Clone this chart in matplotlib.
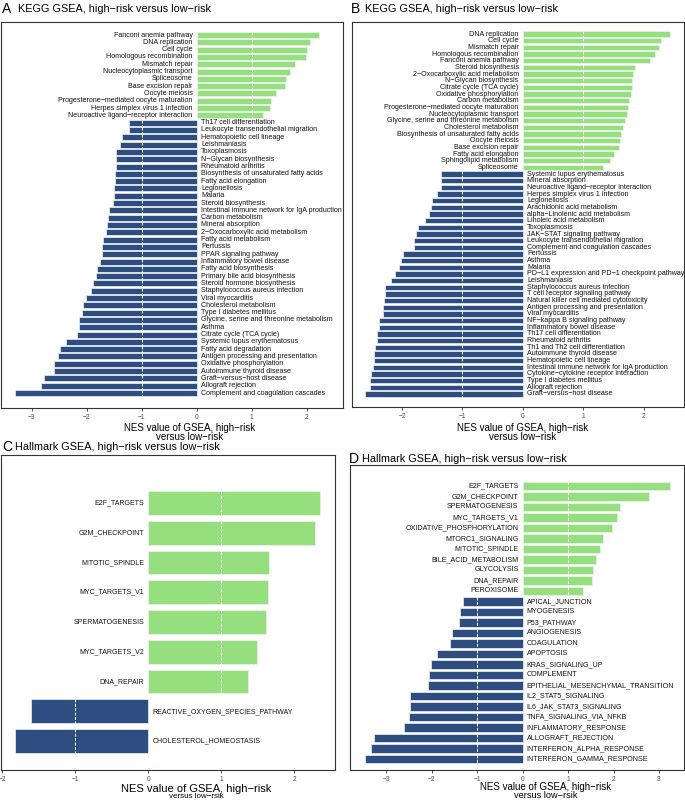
import matplotlib
matplotlib.use("Agg")
import matplotlib.pyplot as plt

plt.rcParams['font.family'] = ['Liberation Sans', 'DejaVu Sans']

GREEN = "#95DF7F"
BLUE = "#2E4D80"
M = "\u2212"

# --- panel A: KEGG ---
a_names = [
    "Fanconi anemia pathway", "DNA replication", "Cell cycle", "Homologous recombination",
    "Mismatch repair", "Nucleocytoplasmic transport", "Spliceosome", "Base excision repair",
    "Oocyte meiosis", f"Progesterone{M}mediated oocyte maturation",
    "Herpes simplex virus 1 infection", f"Neuroactive ligand{M}receptor interaction",
    "Th17 cell differentiation", "Leukocyte transendothelial migration",
    "Hematopoietic cell lineage", "Leishmaniasis", "Toxoplasmosis", f"N{M}Glycan biosynthesis",
    "Rheumatoid arthritis", "Biosynthesis of unsaturated fatty acids", "Fatty acid elongation",
    "Legionellosis", "Malaria", "Steroid biosynthesis",
    "Intestinal immune network for IgA production", "Carbon metabolism", "Mineral absorption",
    f"2{M}Oxocarboxylic acid metabolism", "Fatty acid metabolism", "Pertussis",
    "PPAR signaling pathway", "Inflammatory bowel disease", "Fatty acid biosynthesis",
    "Primary bile acid biosynthesis", "Steroid hormone biosynthesis",
    "Staphylococcus aureus infection", "Viral myocarditis", "Cholesterol metabolism",
    "Type I diabetes mellitus", "Glycine, serine and threonine metabolism", "Asthma",
    "Citrate cycle (TCA cycle)", "Systemic lupus erythematosus", "Fatty acid degradation",
    "Antigen processing and presentation", "Oxidative phosphorylation",
    "Autoimmune thyroid disease", f"Graft{M}versus{M}host disease", "Allograft rejection",
    "Complement and coagulation cascades",
]
a_nes = [
    2.22, 2.06, 2.01, 1.99, 1.79, 1.70, 1.62, 1.60, 1.44, 1.35, 1.33, 1.21,
    -1.23, -1.23, -1.36, -1.39, -1.46, -1.47, -1.47, -1.49, -1.49, -1.50, -1.51, -1.52,
    -1.60, -1.61, -1.63, -1.65, -1.70, -1.72, -1.73, -1.76, -1.81, -1.83, -1.89, -1.92,
    -2.02, -2.07, -2.09, -2.15, -2.15, -2.18, -2.38, -2.49, -2.53, -2.60, -2.60, -2.78,
    -2.83, -3.30,
]

# --- panel B: KEGG ---
b_names = [
    "DNA replication", "Cell cycle", "Mismatch repair", "Homologous recombination",
    "Fanconi anemia pathway", "Steroid biosynthesis", f"2{M}Oxocarboxylic acid metabolism",
    f"N{M}Glycan biosynthesis", "Citrate cycle (TCA cycle)", "Oxidative phosphorylation",
    "Carbon metabolism", f"Progesterone{M}mediated oocyte maturation",
    "Nucleocytoplasmic transport", "Glycine, serine and threonine metabolism",
    "Cholesterol metabolism", "Biosynthesis of unsaturated fatty acids", "Oocyte meiosis",
    "Base excision repair", "Fatty acid elongation", "Sphingolipid metabolism", "Spliceosome",
    "Systemic lupus erythematosus", "Mineral absorption",
    f"Neuroactive ligand{M}receptor interaction", "Herpes simplex virus 1 infection",
    "Legionellosis", "Arachidonic acid metabolism", f"alpha{M}Linolenic acid metabolism",
    "Linoleic acid metabolism", "Toxoplasmosis", f"JAK{M}STAT signaling pathway",
    "Leukocyte transendothelial migration", "Complement and coagulation cascades",
    "Pertussis", "Asthma", "Malaria", f"PD{M}L1 expression and PD{M}1 checkpoint pathway",
    "Leishmaniasis", "Staphylococcus aureus infection", "T cell receptor signaling pathway",
    "Natural killer cell mediated cytotoxicity", "Antigen processing and presentation",
    "Viral myocarditis", f"NF{M}kappa B signaling pathway", "Inflammatory bowel disease",
    "Th17 cell differentiation", "Rheumatoid arthritis", "Th1 and Th2 cell differentiation",
    "Autoimmune thyroid disease", "Hematopoietic cell lineage",
    "Intestinal immune network for IgA production", f"Cytokine{M}cytokine receptor interaction",
    "Type I diabetes mellitus", "Allograft rejection", f"Graft{M}versus{M}host disease",
]
b_nes = [
    2.44, 2.29, 2.25, 2.19, 2.10, 1.85, 1.83, 1.81, 1.81, 1.80, 1.76, 1.75, 1.72, 1.70,
    1.66, 1.63, 1.61, 1.59, 1.51, 1.45, 1.33,
    -1.35, -1.35, -1.36, -1.42, -1.51, -1.52, -1.56, -1.62, -1.74, -1.77, -1.80, -1.81,
    -1.98, -2.02, -2.05, -2.12, -2.18, -2.28, -2.29, -2.30, -2.32, -2.32, -2.38, -2.39,
    -2.41, -2.42, -2.45, -2.46, -2.46, -2.48, -2.52, -2.53, -2.53, -2.61,
]

# --- panel C: Hallmark ---
c_names = [
    "E2F_TARGETS", "G2M_CHECKPOINT", "MITOTIC_SPINDLE", "MYC_TARGETS_V1", "SPERMATOGENESIS",
    "MYC_TARGETS_V2", "DNA_REPAIR", "REACTIVE_OXYGEN_SPECIES_PATHWAY", "CHOLESTEROL_HOMEOSTASIS",
]
c_nes = [2.36, 2.28, 1.65, 1.64, 1.62, 1.49, 1.37, -1.61, -1.83]

# --- panel D: Hallmark ---
d_names = [
    "E2F_TARGETS", "G2M_CHECKPOINT", "SPERMATOGENESIS", "MYC_TARGETS_V1",
    "OXIDATIVE_PHOSPHORYLATION", "MTORC1_SIGNALING", "MITOTIC_SPINDLE", "BILE_ACID_METABOLISM",
    "GLYCOLYSIS", "DNA_REPAIR", "PEROXISOME", "APICAL_JUNCTION", "MYOGENESIS", "P53_PATHWAY",
    "ANGIOGENESIS", "COAGULATION", "APOPTOSIS", "KRAS_SIGNALING_UP", "COMPLEMENT",
    "EPITHELIAL_MESENCHYMAL_TRANSITION", "IL2_STAT5_SIGNALING", "IL6_JAK_STAT3_SIGNALING",
    "TNFA_SIGNALING_VIA_NFKB", "INFLAMMATORY_RESPONSE", "ALLOGRAFT_REJECTION",
    "INTERFERON_ALPHA_RESPONSE", "INTERFERON_GAMMA_RESPONSE",
]
d_nes = [
    3.24, 2.78, 2.15, 2.08, 1.96, 1.76, 1.70, 1.62, 1.54, 1.52, 1.32,
    -1.31, -1.37, -1.40, -1.56, -1.60, -1.89, -2.02, -2.07, -2.09, -2.47, -2.49, -2.51,
    -2.61, -3.27, -3.34, -3.46,
]

titles = ["KEGG GSEA, high\u2212risk versus low\u2212risk"] * 2 + \
         ["Hallmark GSEA, high\u2212risk versus low\u2212risk"] * 2
xlab_top = "NES value of GSEA, high\u2212risk"
xlab_ab2 = "versus low\u2212risk"
xlab_cd2 = "versus low\u2212rsik"

W, H = 685, 800
fig = plt.figure(figsize=(W / 100, H / 100), dpi=100)


def px_axes(l, t, r, b):
    return fig.add_axes([l / W, 1 - b / H, (r - l) / W, (b - t) / H])


def draw(ax, names, vals, xlim, pad_top, pad_bot, height, fs, tick_fs):
    n = len(names)
    ys = list(range(n))
    cols = [GREEN if v > 0 else BLUE for v in vals]
    ax.barh(ys, vals, height=height, color=cols, edgecolor="#f2f2f2", linewidth=0.5, zorder=2)
    for y, v in zip(ys, vals):
        ref = 1 if v > 0 else -1
        ax.plot([ref, ref], [y - height / 2, y + height / 2], color="white",
                lw=0.7, ls=(0, (3, 1.5)), zorder=3)
        if v > 0:
            ax.annotate(names[y], (0, y), xytext=(-3, 0), textcoords="offset points",
                        ha="right", va="center", fontsize=fs, color="#111111")
        else:
            ax.annotate(names[y], (0, y), xytext=(3, 0), textcoords="offset points",
                        ha="left", va="center", fontsize=fs, color="#111111")
    ax.set_xlim(*xlim)
    ax.set_ylim(n - 1 + pad_bot, -pad_top)
    ax.set_yticks([])
    ax.tick_params(axis="x", labelsize=tick_fs, labelcolor="#4d4d4d", length=2.5,
                   width=0.6, color="#333333", pad=2)
    for s in ax.spines.values():
        s.set_color("#333333")
        s.set_linewidth(0.8)


axA = px_axes(1, 22, 343, 408)
draw(axA, a_names, a_nes, (-3.56, 2.66), 1.78, 2.05, 0.82, 5.15, 4.8)
axA.set_xticks([-3, -2, -1, 0, 1, 2])

axB = px_axes(352, 22, 684, 407)
draw(axB, b_names, b_nes, (-2.83, 2.67), 1.8, 1.95, 0.82, 5.1, 4.8)
axB.set_xticks([-2, -1, 0, 1, 2])

axC = px_axes(1, 455, 335, 770)
draw(axC, c_names, c_nes, (-2.02, 2.56), 1.61, 0.97, 0.8, 5.05, 4.8)
axC.set_xticks([-2, -1, 0, 1, 2])

axD = px_axes(350, 465, 684, 770)
draw(axD, d_names, d_nes, (-3.80, 3.55), 2.0, 1.05, 0.82, 5.15, 4.8)
axD.set_xticks([-3, -2, -1, 0, 1, 2, 3])

# panel titles
for letter, title, lx, tx, ty in [("A", titles[0], 2, 18, 9), ("B", titles[1], 351, 365, 9),
                                   ("C", titles[2], 2, 15, 447.5), ("D", titles[3], 349, 362, 459)]:
    fig.text(lx / W, 1 - ty / H, letter, fontsize=10, va="center", ha="left")
    fig.text(tx / W, 1 - ty / H, title, fontsize=7.8, va="center", ha="left")

# x labels, one text per line
for cx, y1, y2, fs1, fs2, second in [(190, 428, 436.5, 7, 7, xlab_ab2),
                                     (523, 428, 436.5, 7, 7, xlab_ab2),
                                     (196, 788.5, 796, 8, 5.8, xlab_cd2),
                                     (546, 787, 796, 7, 6.6, xlab_cd2)]:
    fig.text(cx / W, 1 - y1 / H, xlab_top, fontsize=fs1, ha="center", va="center")
    fig.text(cx / W, 1 - y2 / H, second, fontsize=fs2, ha="center", va="center")

fig.savefig("out.png", dpi=100)
